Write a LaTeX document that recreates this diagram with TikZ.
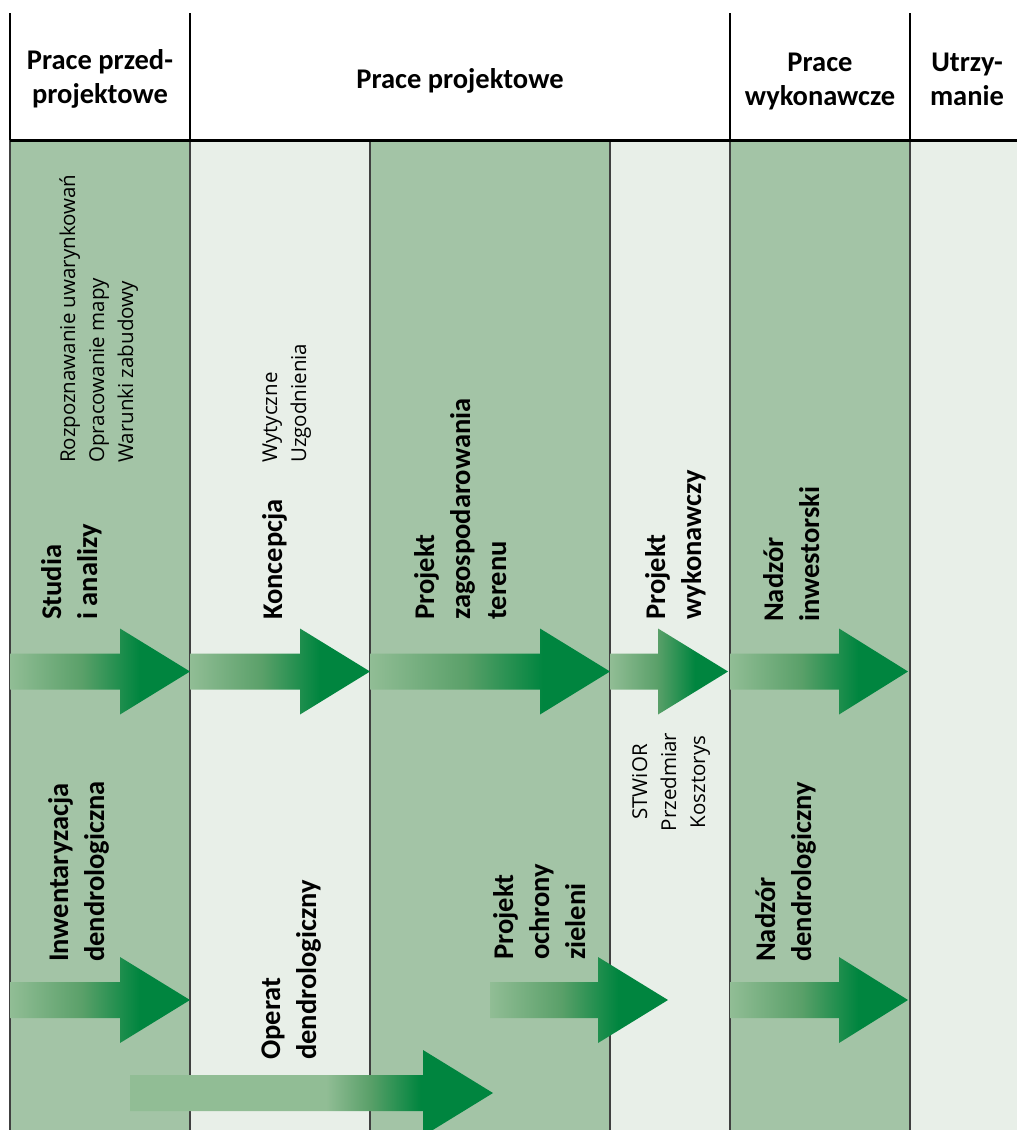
\documentclass[tikz,border=0pt]{standalone}
\usepackage{fontspec}
\setmainfont{Open Sans}
\newfontfamily\hdfont{Carlito}
\definecolor{bgG}{RGB}{163,196,166}
\definecolor{bgL}{RGB}{232,239,232}
\definecolor{arL}{RGB}{145,189,149}
\definecolor{arM}{RGB}{90,160,105}
\definecolor{arD}{RGB}{0,133,63}
\pgfdeclarehorizontalshading{garrow}{100bp}{color(0bp)=(arL); color(25bp)=(arL); color(45bp)=(arM); color(61bp)=(arD); color(100bp)=(arD)}
\pgfdeclarehorizontalshading{garrowlong}{100bp}{color(0bp)=(arL); color(25bp)=(arL); color(52bp)=(arL); color(58bp)=(arM); color(65bp)=(arD); color(100bp)=(arD)}
\newcommand\blockarrow[5][garrow]{%
  \shade[shading=#1] (#2,#5-18) -- (#3,#5-18) -- (#3,#5-43) -- (#4,#5) -- (#3,#5+43) -- (#3,#5+18) -- (#2,#5+18) -- cycle;}
\tikzset{
  hdr/.style={font=\hdfont\bfseries\fontsize{28.5}{34}\selectfont, align=center, inner sep=0pt, anchor=base},
  lbl/.style={font=\hdfont\bfseries\fontsize{28.5}{36}\selectfont, rotate=90, anchor=base west, align=left, inner sep=0pt},
  sml/.style={font=\fontsize{20.5}{29}\selectfont, rotate=90, anchor=base west, align=left, inner sep=0pt},
  hline/.style={line width=2.5pt, black},
  bline/.style={line width=1.5pt, black!75},
}
\begin{document}
\begin{tikzpicture}[x=1pt,y=-1pt]
\useasboundingbox (0,0) rectangle (1017,1130);
\fill[white] (0,0) rectangle (1017,1130);
% column backgrounds
\fill[bgG] (10,140) rectangle (190,1130);
\fill[bgL] (190,140) rectangle (370,1130);
\fill[bgG] (370,140) rectangle (610,1130);
\fill[bgL] (610,140) rectangle (730,1130);
\fill[bgG] (730,140) rectangle (910,1130);
\fill[bgL] (910,140) rectangle (1017,1130);
% body lines
\foreach \x in {10,190,370,610,730,910} \draw[bline] (\x,140) -- (\x,1130);
% header lines
\foreach \x in {10,190,730,910} \draw[hline] (\x,13) -- (\x,140);
\draw[line width=3pt] (10,140) -- (1017,140);
% headers (anchor = baseline of last line)
\node[hdr] (h1) at (100,103) {Prace przed-\\projektowe};
\node[hdr] (h2) at (460,88) {Prace projektowe};
\node[hdr] (h3) at (820,105) {Prace\\wykonawcze};
\node[hdr] (h4) at (967,105) {Utrzy-\\manie};
% arrows
\blockarrow{10}{120}{190}{671.5}
\blockarrow{190}{300}{370}{671.5}
\blockarrow{370}{540}{610}{671.5}
\blockarrow{610}{658}{728}{671.5}
\blockarrow{730}{839}{908}{671.5}
\blockarrow{10}{120}{190}{1000}
\blockarrow{490}{598}{668}{1000}
\blockarrow{730}{839}{908}{1000}
\blockarrow[garrowlong]{130}{423}{493}{1093}
% small texts (anchor = baseline of last line)
\node[sml] (s1) at (133,463) {Rozpoznawanie uwarynkowań\\Opracowanie mapy\\Warunki zabudowy};
\node[sml] (s2) at (306,463) {Wytyczne\\Uzgodnienia};
\node[sml, anchor=base, align=center] (s3) at (705,782) {STWiOR\\Przedmiar\\Kosztorys};
% bold labels (anchor = baseline of last line)
\node[lbl] (l1) at (97,620) {Studia\\i analizy};
\node[lbl] (l2) at (282,620) {Koncepcja};
\node[lbl] (l3) at (506,620) {Projekt\\zagospodarowania\\terenu};
\node[lbl] (l4) at (701,620) {Projekt\\wykonawczy};
\node[lbl] (l5) at (819,622) {Nadzór\\inwestorski};
\node[lbl] (l6) at (104,962) {Inwentaryzacja\\dendrologiczna};
\node[lbl] (l7) at (316,1060) {Operat\\dendrologiczny};
\node[lbl] (l8) at (585,960) {Projekt\\ochrony\\zieleni};
\node[lbl] (l9) at (811,962) {Nadzór\\dendrologiczny};
\end{tikzpicture}
\end{document}
